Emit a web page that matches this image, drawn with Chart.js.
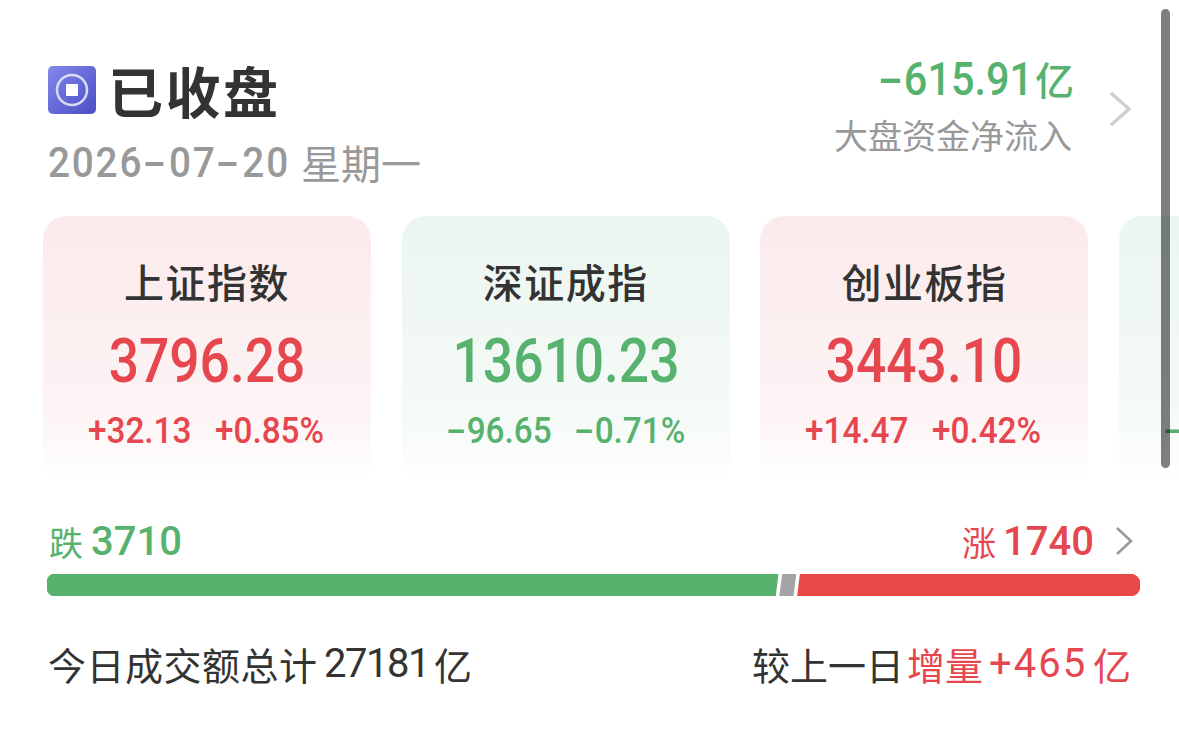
<!DOCTYPE html>
<html lang="zh-CN">
<head>
<meta charset="utf-8">
<title>已收盘</title>
<script src="https://cdn.jsdelivr.net/npm/chart.js@4/dist/chart.umd.min.js"></script>
<style>
  html,body{margin:0;padding:0;background:#fff;}
  body{width:1179px;height:740px;overflow:hidden;position:relative;font-family:"Noto Sans CJK SC","Noto Sans",sans-serif;}
  .t{position:absolute;white-space:nowrap;line-height:1;}
  .num{font-family:Roboto,"Noto Sans CJK SC",sans-serif;}
  .red{color:#e6474f;}
  .green{color:#57b26e;}
  .dash{display:inline-block;transform:scaleX(1.8);margin:0 .14em;}
  .card{position:absolute;top:216px;width:328px;height:268px;border-radius:24px;overflow:hidden;}
  .card.up{background:linear-gradient(180deg,#fbeaeb 0%,#fdf4f5 75%,#ffffff 100%);}
  .card.down{background:linear-gradient(180deg,#ebf6f0 0%,#f5faf7 75%,#ffffff 100%);}
  .card .name{left:0;width:100%;top:45px;text-align:center;font-size:40px;letter-spacing:1.5px;font-weight:500;color:#333;}
  .card .val{left:0;width:100%;top:114px;text-align:center;font-size:62px;font-weight:500;transform:scaleX(.86);}
  .card .chg{top:196px;font-size:37px;font-weight:500;transform:scaleX(.9);transform-origin:left center;}
  #barWrap{position:absolute;left:47px;top:574px;width:1093px;height:22px;}
  #scroll{position:absolute;left:1161px;top:9px;width:9px;height:459px;border-radius:5px;background:rgba(0,0,0,.5);}
  svg{position:absolute;}
</style>
</head>
<body>

<svg style="left:48px;top:66px" width="48" height="48" viewBox="0 0 48 48">
  <defs><linearGradient id="ic" x1="0" y1="0" x2="1" y2="1"><stop offset="0" stop-color="#8487ea"/><stop offset="1" stop-color="#4a4ec4"/></linearGradient></defs>
  <rect width="48" height="48" rx="5" fill="url(#ic)"/>
  <circle cx="24" cy="24" r="15" fill="none" stroke="#d9daf6" stroke-width="2.5"/>
  <rect x="18" y="18" width="12" height="12" rx="1" fill="#fff"/>
</svg>
<div class="t" style="left:108px;top:62px;font-size:55px;letter-spacing:2.5px;font-weight:700;color:#333">已收盘</div>
<div class="t num" id="date" style="left:48px;top:141px;font-size:43px;letter-spacing:2px;font-weight:500;color:#999;transform:scaleX(.9);transform-origin:left center"></div>
<div class="t" style="left:301px;top:142px;font-size:40px;color:#999">星期一</div>

<div class="t num green" id="flow" style="right:146px;top:56px;font-size:46px;font-weight:500;transform:scaleX(.9);transform-origin:right center"></div>
<div class="t green" id="flowUnit" style="right:105px;top:59px;font-size:39px;font-weight:500"></div>
<div class="t" style="right:107px;top:118px;font-size:34px;color:#999">大盘资金净流入</div>
<svg style="left:1108px;top:90px" width="24" height="38"><path d="M3 3 L21 19 L3 35" fill="none" stroke="#cfcfcf" stroke-width="3.5"/></svg>

<div id="cards"></div>

<div class="t green" style="left:49px;top:525px;font-size:34px">跌</div>
<div class="t num green" id="fallN" style="left:91px;top:522px;font-size:40px;font-weight:500"></div>
<div class="t red" style="left:962px;top:525px;font-size:34px">涨</div>
<div class="t num red" id="riseN" style="left:1003px;top:522px;font-size:40px;font-weight:500"></div>
<svg style="left:1114px;top:526px" width="20" height="30"><path d="M3 2 L17 15 L3 28" fill="none" stroke="#999" stroke-width="2.6"/></svg>

<div id="barWrap"><canvas id="bar"></canvas></div>

<div class="t" style="left:48px;top:645px;font-size:38px;letter-spacing:.5px;color:#333">今日成交额总计</div>
<div class="t num" id="turnover" style="left:324px;top:644px;font-size:40px;letter-spacing:-1.5px;color:#333"></div>
<div class="t" style="left:434px;top:645px;font-size:38px;color:#333">亿</div>
<div class="t" style="left:752px;top:645px;font-size:38px;color:#333">较上一日</div>
<div class="t red" style="left:907px;top:645px;font-size:38px">增量</div>
<div class="t num red" id="delta" style="left:989px;top:644px;font-size:40px;letter-spacing:2px"></div>
<div class="t red" style="left:1093px;top:645px;font-size:38px">亿</div>

<div id="scroll"></div>

<script>
const indexNames = ['上证指数', '深证成指', '创业板指', ''];
const indexValues = ['3796.28', '13610.23', '3443.10', ''];
const indexChanges = ['+32.13', '-96.65', '+14.47', '-'];
const indexPercents = ['+0.85%', '-0.71%', '+0.42%', ''];
const cardColors = ['up', 'down', 'up', 'down'];

const breadthLabels = ['跌', '平', '涨'];
const breadthValues = [3710, 90, 1740];   // the flat count is not printed, estimated from the grey piece
const breadthColors = ['#57b26e', '#a3a3a5', '#e94a47'];

const tradeDate = '2026-07-20';
const netFlow = '-615.91';
const flowUnit = '亿';
const turnover = '27181';
const turnoverDelta = '+465';

const $ = s => document.querySelector(s);
// the app font has a much longer dash than Roboto
const dash = s => s.replace(/-/g, '<span class="dash">-</span>');

$('#date').innerHTML = dash(tradeDate);
$('#flow').innerHTML = dash(netFlow);
$('#flowUnit').textContent = flowUnit;
$('#fallN').textContent = breadthValues[0];
$('#riseN').textContent = breadthValues[2];
$('#turnover').textContent = turnover;
$('#delta').textContent = turnoverDelta;

$('#cards').innerHTML = indexNames.map((name,i)=>{
  const up = cardColors[i]==='up';
  const col = up ? 'red' : 'green';
  const left = 43 + i*358.7;
  return `<div class="card ${cardColors[i]}" style="left:${left}px">
    <div class="t name">${name}</div>
    <div class="t num val ${col}">${indexValues[i]}</div>
    <div class="t num chg ${col}" style="left:${up?45:44}px">${dash(indexChanges[i])}</div>
    <div class="t num chg ${col}" style="left:${up?172:172}px">${dash(indexPercents[i])}</div>
  </div>`;
}).join('');

// white slanted cuts between the pieces
const slantCuts = {
  id:'slantCuts',
  afterDatasetsDraw(c){
    const { ctx, chartArea:a } = c;
    [0,1].forEach(d=>{
      const x = c.getDatasetMeta(d).data[0].x;
      ctx.save();
      ctx.strokeStyle = '#fff';
      ctx.lineWidth = 3.6;
      ctx.beginPath();
      ctx.moveTo(x+1.5, a.top-1);
      ctx.lineTo(x-1.5, a.bottom+1);
      ctx.stroke();
      ctx.restore();
    });
  }
};

new Chart($('#bar'), {
  type:'bar',
  data:{
    labels:['breadth'],
    datasets: breadthLabels.map((label,i)=>({
      label,
      data:[breadthValues[i]],
      backgroundColor:breadthColors[i],
      borderWidth:0,
      borderSkipped:false,
      borderRadius: i===0 ? {topLeft:8,bottomLeft:8} : i===2 ? {topRight:10,bottomRight:10} : 0,
      categoryPercentage:1,
      barPercentage:1,
    }))
  },
  options:{
    indexAxis:'y',
    responsive:true,
    maintainAspectRatio:false,
    animation:false,
    layout:{padding:0},
    plugins:{legend:{display:false},tooltip:{enabled:false}},
    scales:{
      x:{stacked:true,display:false,min:0,max:breadthValues.reduce((a,b)=>a+b,0)},
      y:{stacked:true,display:false}
    }
  },
  plugins:[slantCuts]
});
</script>
</body>
</html>
